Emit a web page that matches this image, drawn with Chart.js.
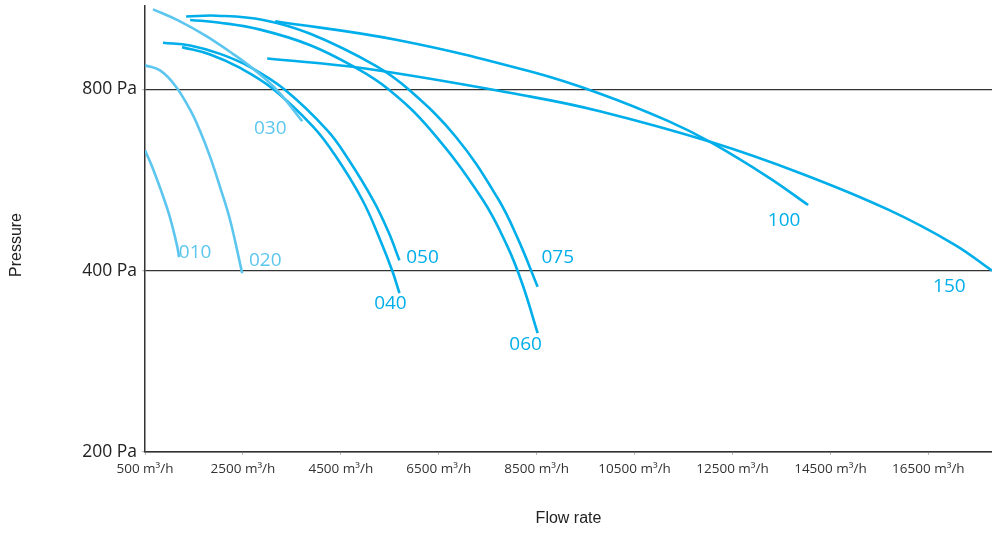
<!DOCTYPE html>
<html>
<head>
<meta charset="utf-8">
<script src="https://cdn.jsdelivr.net/npm/chart.js@4.4.1/dist/chart.umd.min.js"></script>
<style>
  html, body { margin: 0; padding: 0; background: #fff; }
  #wrap { width: 992px; height: 533px; }
</style>
</head>
<body>
<div id="wrap"><canvas id="myChart" width="992" height="533"></canvas></div>
<script>
// flow rate (m3/h) and pressure (Pa)
var fan010x = [500, 664, 868, 1011, 1155, 1196];
var fan010y = [634, 590, 532, 490, 440, 421];
var fan020x = [500, 807, 1114, 1421, 1625, 1830, 2035, 2239, 2485];
var fan020y = [877, 860, 812, 740, 682, 618, 550, 485, 396];
var fan030x = [664, 1175, 1728, 2280, 2751, 3201, 3712];
var fan030y = [1086, 1041, 983, 918, 860, 797, 708];
var fan040x = [1257, 1830, 2444, 3098, 3937, 4387, 4940, 5308, 5554, 5697];
var fan040y = [940, 914, 868, 803, 693, 621, 524, 449, 399, 367];
var fan050x = [868, 1421, 2035, 2648, 3364, 4224, 4633, 5165, 5472, 5697];
var fan050y = [956, 946, 916, 871, 798, 684, 616, 523, 464, 416];
var fan060x = [1421, 2035, 2853, 3876, 4756, 5472, 6331, 7395, 7907, 8213, 8520];
var fan060y = [1043, 1032, 1005, 947, 873, 800, 685, 525, 438, 379, 315];
var fan075x = [1339, 1973, 2914, 3876, 5205, 5881, 6843, 7702, 8111, 8520];
var fan075y = [1057, 1060, 1043, 989, 876, 800, 668, 528, 453, 376];
var fan100x = [3160, 5656, 8377, 9810, 11180, 12060, 13226, 14045];
var fan100y = [1038, 966, 856, 786, 709, 653, 572, 514];
var fan150x = [2996, 4960, 8377, 9810, 12060, 13901, 15681, 17032, 17800];
var fan150y = [900, 867, 778, 735, 654, 580, 505, 442, 400];

var fanNames = ["010", "020", "030", "040", "050", "060", "075", "100", "150"];
// where each curve name sits (flow, pressure)
var labelFlow = [1523, 2955, 3058, 5513, 6167, 8275, 8930, 13553, 16929];
var labelPressure = [428, 416, 689, 353, 421, 301, 421, 485, 377];

var xTicks = [500, 2500, 4500, 6500, 8500, 10500, 12500, 14500, 16500];
var yTicks = [200, 400, 800];

var LIGHT = "#5cc6ef";
var DARK = "#00aeea";

function pts(xs, ys) {
	return xs.map(function (x, i) { return { x: x, y: ys[i] }; });
}

var curves = [
	[fan010x, fan010y], [fan020x, fan020y], [fan030x, fan030y],
	[fan040x, fan040y], [fan050x, fan050y], [fan060x, fan060y],
	[fan075x, fan075y], [fan100x, fan100y], [fan150x, fan150y]
];

var datasets = curves.map(function (c, i) {
	return {
		label: fanNames[i],
		data: pts(c[0], c[1]),
		borderColor: i < 3 ? LIGHT : DARK,
		borderWidth: 2.6,
		pointRadius: 0,
		fill: false,
		tension: 0.4
	};
});

var curveLabels = {
	id: 'curveLabels',
	afterDatasetsDraw: function (chart) {
		var ctx = chart.ctx, xs = chart.scales.x, ys = chart.scales.y;
		ctx.save();
		ctx.font = '19px "Open Sans"';
		ctx.textAlign = 'center';
		ctx.textBaseline = 'middle';
		fanNames.forEach(function (n, i) {
			ctx.fillStyle = i < 3 ? LIGHT : DARK;
			ctx.fillText(n, xs.getPixelForValue(labelFlow[i]), ys.getPixelForValue(labelPressure[i]));
		});
		// y axis title, sits a bit below the middle of the axis
		ctx.translate(17, 245);
		ctx.rotate(-Math.PI / 2);
		ctx.fillStyle = '#222';
		ctx.font = '16px "Liberation Sans"';
		ctx.fillText('Pressure', 0, 0);
		ctx.restore();
	}
};

new Chart(document.getElementById("myChart"), {
	type: 'line',
	data: { datasets: datasets },
	options: {
		responsive: false,
		animation: false,
		layout: { padding: { top: 6, right: 0, left: 0, bottom: 0 } },
		plugins: { legend: { display: false }, tooltip: { enabled: false } },
		scales: {
			x: {
				type: 'linear',
				min: 500,
				max: 17800,
				afterBuildTicks: function (s) { s.ticks = xTicks.map(function (v) { return { value: v }; }); },
				afterFit: function (s) { s.height = 81; s.paddingLeft = 0; s.paddingRight = 0; },
				ticks: {
					padding: 6,
					color: '#333',
					font: { family: '"Open Sans"', size: 13.5 },
					maxRotation: 0,
					autoSkip: false,
					callback: function (v) { return v + ' m\u00b3/h'; }
				},
				grid: { drawOnChartArea: false, tickLength: 3, tickColor: '#bbb' },
				border: { color: '#333', width: 1.5 },
				title: {
					display: true,
					text: 'Flow rate',
					color: '#222',
					font: { family: '"Liberation Sans"', size: 16 },
					padding: { top: 0, bottom: 5 }
				}
			},
			y: {
				type: 'logarithmic',
				min: 200,
				max: 1100,
				afterBuildTicks: function (s) { s.ticks = yTicks.map(function (v) { return { value: v }; }); },
				afterFit: function (s) { s.width = 145; s.paddingTop = 0; s.paddingBottom = 0; },
				ticks: {
					padding: 5,
					color: '#222',
					font: { family: '"Open Sans"', size: 17.5 },
					callback: function (v) { return v + ' Pa'; }
				},
				grid: { color: '#333', lineWidth: 1.2, tickLength: 3, tickColor: '#bbb' },
				border: { color: '#333', width: 1.5 },
				title: { display: false }
			}
		}
	},
	plugins: [curveLabels]
});
</script>
</body>
</html>
